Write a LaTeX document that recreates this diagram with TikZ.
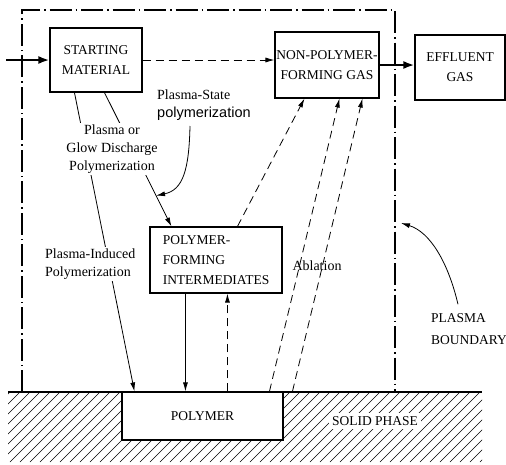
\documentclass[tikz,border=0pt]{standalone}
\usepackage{fontspec}
\setmainfont{Liberation Serif}
\newfontfamily\sansf{Liberation Sans}
\usetikzlibrary{arrows.meta,calc}
\begin{document}
\begin{tikzpicture}[x=1pt,y=-1pt,
 box/.style={draw,line width=1.1pt,inner sep=0pt,align=center,font=\fontsize{13.5}{20}\selectfont},
 lbl/.style={align=center,inner sep=2pt,font=\fontsize{14}{18}\selectfont},
 capl/.style={align=left,inner sep=1pt,font=\fontsize{13.5}{22}\selectfont},
 arr/.style={-{Latex[length=9pt,width=5pt]},line width=0.8pt},
 darr/.style={arr,dash pattern=on 8pt off 5pt},
 thickarr/.style={-{Latex[length=11pt,width=8pt]},line width=2.8pt},
 boundary/.style={line width=1.1pt,dash pattern=on 22pt off 4pt on 1.5pt off 4pt},
 hatchline/.style={line width=0.6pt}]
\useasboundingbox (0,0) rectangle (506,464);

% solid phase hatching
\begin{scope}
\clip (8,392) rectangle (482,462);
\foreach \i in {-80,-70,...,480} \draw[hatchline] (\i,462) -- ++(70,-70);
\end{scope}

% boxes
\node[box,minimum width=92pt,minimum height=64pt] (sm) at (96,60) {STARTING\\MATERIAL};
\node[box,minimum width=104pt,minimum height=66pt] (npfg) at (327,65) {NON-POLYMER-\\FORMING GAS};
\node[box,minimum width=90pt,minimum height=65pt] (eff) at (460,67.5) {EFFLUENT\\GAS};
\node[box,align=left,minimum width=132pt,minimum height=66pt] (pfi) at (216,260) {POLYMER-\\FORMING\\INTERMEDIATES};
\node[box,fill=white,minimum width=161pt,minimum height=48pt] (poly) at (202.5,416) {POLYMER};

% ground line
\draw[line width=1.1pt] (8,392) -- (482,392);

% plasma boundary
\coordinate (bl) at (22,392);
\coordinate (tl) at (22,10);
\coordinate (tr) at (395,10);
\coordinate (br) at (395,392);
\draw[boundary] (bl) -- (tl) -- (tr) -- (br);

% connectors
\coordinate (src) at (6,60);
\draw[thickarr] (src) -- (sm.west);
\draw[darr] (sm.east) -- (sm.east -| npfg.west);
\draw[thickarr] (npfg.east) -- (npfg.east -| eff.west);
\draw[arr] ([xshift=25pt]sm.south west) -- ([xshift=13pt]poly.north west);
\draw[arr] ([xshift=55pt]sm.south west) coordinate (s2) -- ([xshift=22pt]pfi.north west) coordinate (e2);
\draw[arr] ([xshift=36pt]pfi.south west) -- ([xshift=36pt]pfi.south west |- poly.north);
\draw[darr] ([xshift=78pt]pfi.south west |- poly.north) -- ([xshift=78pt]pfi.south west);
\draw[darr] ([xshift=88pt]pfi.north west) -- ([xshift=30pt]npfg.south west);
\draw[darr] ([xshift=148pt]poly.north west) -- ([xshift=65pt]npfg.south west);
\draw[darr] ([xshift=171pt]poly.north west) -- ([xshift=88pt]npfg.south west);

% labels
\node[lbl,fill=white] (lab1) at (112,149) {Plasma or\\Glow Discharge\\Polymerization};
\node[lbl,fill=white,align=left,anchor=west] (lab2) at (43,264) {Plasma-Induced\\Polymerization};
\node[lbl,align=left,anchor=north west] (ps) at (155,88) {Plasma-State\\{\sansf\fontsize{14.5}{18}\selectfont polymerization}};
\node[lbl] (abl) at (317,266) {Ablation};
\node[capl,anchor=west] (pb) at (430,329) {PLASMA\\BOUNDARY};
\node[capl,fill=white,inner sep=3pt] (solid) at (375,421) {SOLID PHASE};

% curved arrows
\coordinate (psS) at (190,126);
\draw[arr] (psS) .. controls (189,170) and (183,190) .. ($(s2)!0.77!(e2)$);
\coordinate (pbt) at (401,223);
\draw[arr] ([xshift=28pt,yshift=8pt]pb.north west) .. controls (448,262) and (430,232) .. (pbt);
\end{tikzpicture}
\end{document}
